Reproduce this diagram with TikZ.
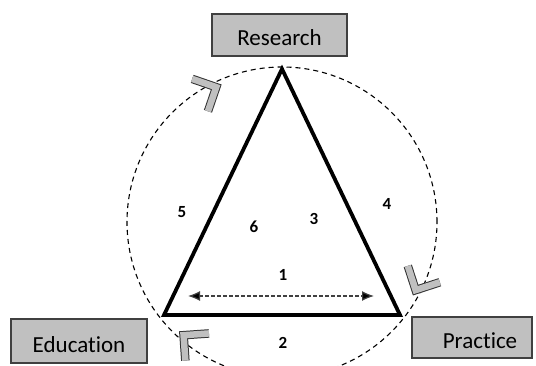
\documentclass[tikz,border=0pt]{standalone}
\usepackage{fontspec}
\setmainfont{Carlito}[Ligatures=NoCommon]
\usetikzlibrary{arrows.meta,calc}
\definecolor{boxgray}{RGB}{192,192,192}
\definecolor{boxline}{RGB}{64,64,64}
\tikzset{
  boxnode/.style={draw=boxline, line width=1.3pt, fill=boxgray, rectangle,
    inner sep=0pt, text height=22pt, text depth=0pt, font=\fontsize{23}{26}\selectfont},
  numlabel/.style={font=\fontsize{17}{20}\selectfont\bfseries, inner sep=0pt},
  tri/.style={line width=3.8pt, line join=miter},
  ring/.style={dash pattern=on 5pt off 4pt, line width=1.1pt},
  chev/.style={double=boxgray, double distance=6.5pt, line width=1pt, draw=black!80, line join=miter},
  span/.style={dash pattern=on 3.5pt off 2.5pt, line width=1.2pt, draw=black!75,
    {Latex[length=12pt,width=10pt,fill=black]}-{Latex[length=12pt,width=10pt,fill=black]}}
}
\begin{document}
\begin{tikzpicture}[x=1pt,y=1pt]
\clip (0,0) rectangle (536,365);
% circle center
\coordinate (C) at (282,143);
\draw[ring] (C) circle (155);
% chevrons on the circle (clockwise)
\foreach \ang/\nm in {116/ch1, -27/ch2, -131/ch3}{
  \begin{scope}[shift={($(C)+(\ang:150)$)}, rotate=\ang-90]
    \coordinate (\nm) at (0,0);
    \draw[chev] (-18,18) -- (0,0) -- (-18,-18);
  \end{scope}
}
% triangle
\coordinate (A) at (282,296);
\coordinate (B) at (164,50);
\coordinate (D) at (400,50);
\draw[tri] (A) -- (B) -- (D) -- cycle;
% boxes
\node[boxnode, minimum width=135pt, minimum height=42pt] (research) at (279.5,330) {Research};
\node[boxnode, minimum width=136pt, minimum height=44pt] (education) at (79,24) {Education};
\node[boxnode, minimum width=120pt, minimum height=41pt] (practice) at (472,27.5) {\hspace*{16pt}Practice};
% double arrow
\coordinate (L) at (188,69);
\coordinate (R) at (374,69);
\draw[span] (L) -- (R);
% numbers
\node[numlabel] (n5) at (182,153) {5};
\node[numlabel] (n6) at (254,138) {6};
\node[numlabel] (n3) at (314,146) {3};
\node[numlabel] (n4) at (387,161) {4};
\node[numlabel] (n1) at (283,90) {1};
\node[numlabel] (n2) at (283,22) {2};
\end{tikzpicture}
\end{document}
